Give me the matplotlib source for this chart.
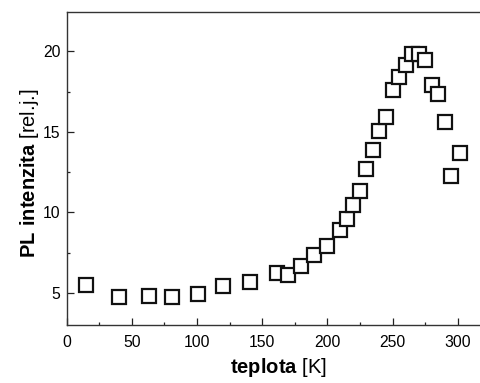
import matplotlib
matplotlib.use("Agg")
import matplotlib.pyplot as plt
from matplotlib.ticker import MultipleLocator

# --- data ---
temperature = [15, 40, 63, 81, 101, 120, 141, 161, 170, 180, 190, 200, 210,
               215, 220, 225, 230, 235, 240, 245, 250, 255, 260, 265, 270,
               275, 280, 285, 290, 295, 302]
pl_intensity = [5.47, 4.73, 4.81, 4.77, 4.9, 5.41, 5.68, 6.24, 6.12, 6.65,
                7.33, 7.92, 8.93, 9.61, 10.44, 11.35, 12.72, 13.85, 15.03,
                15.92, 17.58, 18.41, 19.15, 19.84, 19.84, 19.48, 17.91,
                17.35, 15.61, 12.28, 13.67]

plt.rcParams["font.family"] = "Liberation Sans"
plt.rcParams["mathtext.fontset"] = "custom"
plt.rcParams["mathtext.rm"] = "Liberation Sans"
plt.rcParams["mathtext.bf"] = "Liberation Sans:bold"

fig = plt.figure(figsize=(4.81, 3.83), dpi=100)
ax = fig.add_axes([0.1387, 0.1514, 0.867, 0.8173])

ax.plot(temperature, pl_intensity, linestyle="none", marker="s",
        markersize=9.5, markerfacecolor="white", markeredgecolor="#111111",
        markeredgewidth=1.6)

ax.set_xlim(0, 320)
ax.set_ylim(3, 22.45)
ax.xaxis.set_major_locator(MultipleLocator(50))
ax.xaxis.set_minor_locator(MultipleLocator(25))
ax.yaxis.set_major_locator(MultipleLocator(5))
ax.yaxis.set_minor_locator(MultipleLocator(2.5))

ax.tick_params(which="both", direction="in", labelsize=11.3, color="#222222")
ax.tick_params(which="major", length=5, width=0.9)
ax.tick_params(which="minor", length=2.5, width=0.9)
ax.tick_params(axis="x", pad=7)
ax.tick_params(axis="y", pad=4.5)

for side in ax.spines.values():
    side.set_color("#333333")
    side.set_linewidth(1.0)

ax.set_xlabel(r"$\bf{teplota}$ [K]", fontsize=14.5)
ax.set_ylabel(r"$\bf{PL\ intenzita}$ [rel.j.]", fontsize=14.5)
ax.xaxis.set_label_coords(0.508, -0.1)
ax.yaxis.set_label_coords(-0.062, 0.486)

fig.savefig("out.png", dpi=100)
